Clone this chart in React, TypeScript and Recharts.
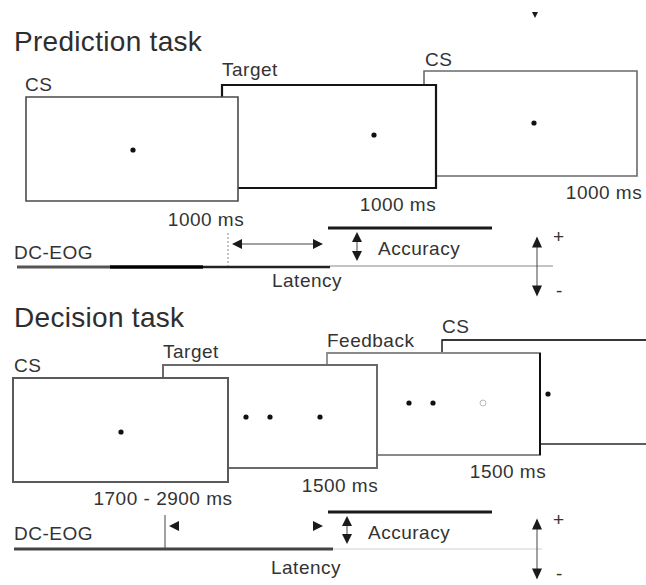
import React from 'react';
import { ScatterChart, Scatter, XAxis, YAxis, ReferenceArea, ReferenceLine } from 'recharts';

const CHART_W = 660;
const CHART_H = 585;

// Stimulus screens, listed back to front: [x1, x2, y1, y2] in diagram units
const screens = [
  { id: 'pCS2', x1: 424, x2: 637, y1: 71, y2: 176 },
  { id: 'pTarget', x1: 222, x2: 436, y1: 85, y2: 188 },
  { id: 'pCS1', x1: 26, x2: 238, y1: 97, y2: 201 },
  { id: 'dCS2', x1: 442, x2: 655, y1: 340, y2: 444 },
  { id: 'dFeedback', x1: 327, x2: 540, y1: 353, y2: 455 },
  { id: 'dTarget', x1: 163, x2: 377, y1: 365, y2: 468 },
  { id: 'dCS1', x1: 13, x2: 228, y1: 378, y2: 482 },
];

// Fixation / stimulus dots
const filledDots = [
  { x: 133, y: 150 }, { x: 374, y: 135 }, { x: 534, y: 123 },
  { x: 121, y: 432 }, { x: 246, y: 417 }, { x: 270, y: 417 }, { x: 320, y: 417 },
  { x: 409, y: 403 }, { x: 433, y: 403 }, { x: 548, y: 394 },
];
const hollowDots = [{ x: 483, y: 403 }];

// Line segments
const segments = [
  { id: 'pEog1', x1: 17, y1: 267, x2: 110, y2: 267, kind: 'eogGray' },
  { id: 'pEog2', x1: 110, y1: 267, x2: 203, y2: 267, kind: 'eogBlack' },
  { id: 'pEog3', x1: 203, y1: 267, x2: 330, y2: 267, kind: 'eogDark' },
  { id: 'pEog4', x1: 330, y1: 266, x2: 553, y2: 266, kind: 'thin' },
  { id: 'pOnset', x1: 228, y1: 233, x2: 228, y2: 266, kind: 'dash' },
  { id: 'pLat', x1: 234, y1: 244, x2: 320, y2: 244, kind: 'hair' },
  { id: 'pAcc', x1: 328, y1: 228, x2: 492, y2: 228, kind: 'acc' },
  { id: 'pAccArrow', x1: 357, y1: 234, x2: 357, y2: 258, kind: 'hair' },
  { id: 'pPol', x1: 537, y1: 238, x2: 537, y2: 294, kind: 'hair' },
  { id: 'dEog1', x1: 14, y1: 549, x2: 333, y2: 549, kind: 'eogDec' },
  { id: 'dEog2', x1: 333, y1: 549, x2: 542, y2: 549, kind: 'thinLight' },
  { id: 'dOnset', x1: 165, y1: 515, x2: 165, y2: 549, kind: 'hair' },
  { id: 'dAcc', x1: 328, y1: 512, x2: 492, y2: 512, kind: 'acc' },
  { id: 'dAccArrow', x1: 347, y1: 518, x2: 347, y2: 542, kind: 'hair' },
  { id: 'dPol', x1: 537, y1: 520, x2: 537, y2: 577, kind: 'hair' },
  { id: 'dFbEdge', x1: 540, y1: 353, x2: 540, y2: 455, kind: 'edge' },
  { id: 'dCS2Top', x1: 442, y1: 340, x2: 655, y2: 340, kind: 'box4' },
];

// Arrowheads
const arrowHeads = [
  { x: 237, y: 244, dir: 'left', size: 'md' }, { x: 318, y: 244, dir: 'right', size: 'md' },
  { x: 357, y: 237, dir: 'up', size: 'md' }, { x: 357, y: 256, dir: 'down', size: 'md' },
  { x: 537, y: 242, dir: 'up', size: 'lg' }, { x: 537, y: 291, dir: 'down', size: 'lg' },
  { x: 535, y: 15, dir: 'down', size: 'sm' },
  { x: 174, y: 526, dir: 'left', size: 'md' }, { x: 318, y: 526, dir: 'right', size: 'md' },
  { x: 347, y: 521, dir: 'up', size: 'md' }, { x: 347, y: 539, dir: 'down', size: 'md' },
  { x: 537, y: 524, dir: 'up', size: 'lg' }, { x: 537, y: 574, dir: 'down', size: 'lg' },
];

// Text labels
const labels = [
  { x: 14, y: 51, t: 'Prediction task', role: 'title', anchor: 'start' },
  { x: 25, y: 91, t: 'CS', role: 'label', anchor: 'start' },
  { x: 222, y: 76, t: 'Target', role: 'label', anchor: 'start' },
  { x: 425, y: 66, t: 'CS', role: 'label', anchor: 'start' },
  { x: 206, y: 226, t: '1000 ms', role: 'label', anchor: 'middle' },
  { x: 398, y: 211, t: '1000 ms', role: 'label', anchor: 'middle' },
  { x: 604, y: 199, t: '1000 ms', role: 'label', anchor: 'middle' },
  { x: 14, y: 259, t: 'DC-EOG', role: 'label', anchor: 'start' },
  { x: 378, y: 255, t: 'Accuracy', role: 'label', anchor: 'start' },
  { x: 307, y: 287, t: 'Latency', role: 'label', anchor: 'middle' },
  { x: 553, y: 243, t: '+', role: 'label', anchor: 'start' },
  { x: 556, y: 297, t: '-', role: 'label', anchor: 'start' },
  { x: 14, y: 327, t: 'Decision task', role: 'title', anchor: 'start' },
  { x: 14, y: 372, t: 'CS', role: 'label', anchor: 'start' },
  { x: 163, y: 358, t: 'Target', role: 'label', anchor: 'start' },
  { x: 327, y: 347, t: 'Feedback', role: 'label', anchor: 'start' },
  { x: 442, y: 333, t: 'CS', role: 'label', anchor: 'start' },
  { x: 163, y: 505, t: '1700 - 2900 ms', role: 'label', anchor: 'middle' },
  { x: 340, y: 492, t: '1500 ms', role: 'label', anchor: 'middle' },
  { x: 508, y: 478, t: '1500 ms', role: 'label', anchor: 'middle' },
  { x: 14, y: 540, t: 'DC-EOG', role: 'label', anchor: 'start' },
  { x: 368, y: 539, t: 'Accuracy', role: 'label', anchor: 'start' },
  { x: 306, y: 574, t: 'Latency', role: 'label', anchor: 'middle' },
  { x: 553, y: 526, t: '+', role: 'label', anchor: 'start' },
  { x: 556, y: 580, t: '-', role: 'label', anchor: 'start' },
];

// ---- styles (kept apart from the data) ----
const FONT = '"Liberation Sans", Arial, Helvetica, sans-serif';
const screenStyle: Record<string, { stroke: string; sw: number }> = {
  pCS2: { stroke: '#6a6a6a', sw: 1.6 },
  pTarget: { stroke: '#151515', sw: 2.2 },
  pCS1: { stroke: '#4a4a4a', sw: 1.6 },
  dCS2: { stroke: '#2a2a2a', sw: 1.6 },
  dFeedback: { stroke: '#8a8a8a', sw: 1.8 },
  dTarget: { stroke: '#6a6a6a', sw: 2 },
  dCS1: { stroke: '#5a5a5a', sw: 2 },
};
const segStyle: Record<string, { stroke: string; sw: number; dash?: string }> = {
  eogGray: { stroke: '#555', sw: 3 },
  eogBlack: { stroke: '#000', sw: 3.5 },
  eogDark: { stroke: '#222', sw: 2.6 },
  thin: { stroke: '#888', sw: 1 },
  dash: { stroke: '#888', sw: 1, dash: '2 2' },
  hair: { stroke: '#444', sw: 1 },
  acc: { stroke: '#1a1a1a', sw: 2.8 },
  eogDec: { stroke: '#444', sw: 3 },
  thinLight: { stroke: '#d0d0d0', sw: 1.2 },
  edge: { stroke: '#111', sw: 2 },
  box4: { stroke: '#2a2a2a', sw: 1.6 },
};
const textStyle: Record<string, { size: number; fill: string; spacing: number }> = {
  title: { size: 28, fill: '#2e2e2e', spacing: 0.3 },
  label: { size: 19, fill: '#333', spacing: 0.5 },
};
const arrowSize: Record<string, { h: number; w: number }> = {
  sm: { h: 3, w: 3 },
  md: { h: 5, w: 5 },
  lg: { h: 5.5, w: 5 },
};

const Arrow = (p: any) => {
  const { cx, cy, payload } = p;
  const { h, w } = arrowSize[payload.size];
  let pts = '';
  if (payload.dir === 'up') pts = `${cx},${cy - h} ${cx - w},${cy + h} ${cx + w},${cy + h}`;
  else if (payload.dir === 'down') pts = `${cx},${cy + h} ${cx - w},${cy - h} ${cx + w},${cy - h}`;
  else if (payload.dir === 'left') pts = `${cx - h},${cy} ${cx + h},${cy - w} ${cx + h},${cy + w}`;
  else pts = `${cx + h},${cy} ${cx - h},${cy - w} ${cx - h},${cy + w}`;
  return <polygon points={pts} fill="#1a1a1a" />;
};

const Label = (p: any) => {
  const { cx, cy, payload } = p;
  const st = textStyle[payload.role];
  return (
    <text
      x={cx}
      y={cy}
      textAnchor={payload.anchor}
      fontFamily={FONT}
      fontSize={st.size}
      letterSpacing={st.spacing}
      fill={st.fill}
    >
      {payload.t}
    </text>
  );
};

const Dot = (p: any) => <circle cx={p.cx} cy={p.cy} r={2.6} fill="#111" />;
const Hollow = (p: any) => <circle cx={p.cx} cy={p.cy} r={3} fill="none" stroke="#bbb" strokeWidth={1} />;

export default function App() {
  return (
    <div style={{ position: 'absolute', left: 0, top: 0, width: 646, height: 585, overflow: 'hidden', background: '#fff' }}>
      <ScatterChart width={CHART_W} height={CHART_H} margin={{ top: 0, right: 0, bottom: 0, left: 0 }}>
        <XAxis type="number" dataKey="x" domain={[0, CHART_W]} hide />
        <YAxis type="number" dataKey="y" domain={[0, CHART_H]} reversed hide />
        {screens.map((s) => (
          <ReferenceArea
            key={s.id}
            x1={s.x1}
            x2={s.x2}
            y1={s.y1}
            y2={s.y2}
            fill="#fff"
            fillOpacity={1}
            stroke={screenStyle[s.id].stroke}
            strokeWidth={screenStyle[s.id].sw}
          />
        ))}
        {segments.map((s) => (
          <ReferenceLine
            key={s.id}
            segment={[{ x: s.x1, y: s.y1 }, { x: s.x2, y: s.y2 }]}
            stroke={segStyle[s.kind].stroke}
            strokeWidth={segStyle[s.kind].sw}
            strokeDasharray={segStyle[s.kind].dash}
          />
        ))}
        <Scatter data={filledDots} shape={Dot} isAnimationActive={false} />
        <Scatter data={hollowDots} shape={Hollow} isAnimationActive={false} />
        <Scatter data={arrowHeads} shape={Arrow} isAnimationActive={false} />
        <Scatter data={labels} shape={Label} isAnimationActive={false} />
      </ScatterChart>
    </div>
  );
}
